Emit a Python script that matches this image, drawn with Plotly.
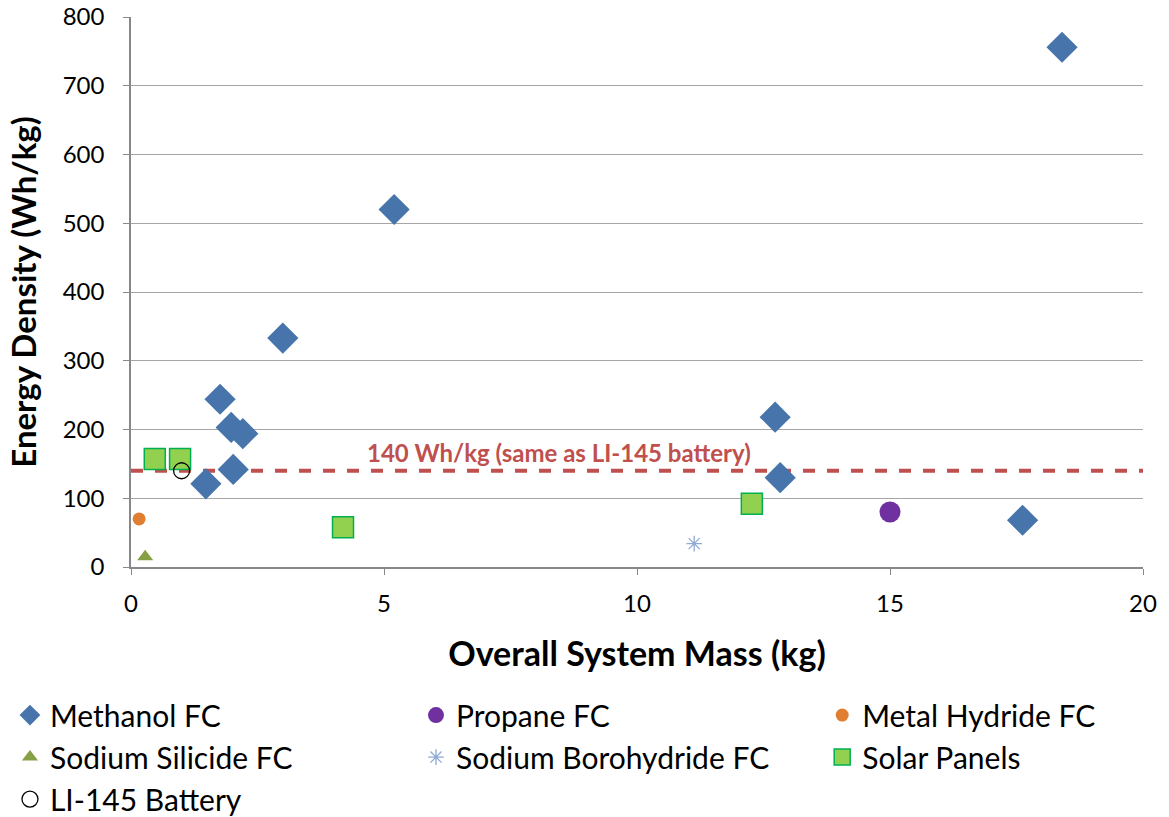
import plotly.graph_objects as go

methanol_x = [18.4, 5.2, 3.0, 1.76, 1.98, 2.21, 2.02, 1.48, 12.73, 12.83, 17.62]
methanol_y = [756, 520, 333, 244, 203, 194, 142, 121, 218, 130, 68]
propane_x = [15.0]
propane_y = [80]
metal_x = [0.16]
metal_y = [70]
silicide_x = [0.28]
silicide_y = [15]
borohydride_x = [11.13]
borohydride_y = [34]
solar_x = [0.47, 0.97, 4.19, 12.27]
solar_y = [157, 157, 58, 92]
battery_x = [1.0]
battery_y = [140]
ref_line_y = 140
ref_label = "140 Wh/kg (same as LI-145 battery)"

FONT = "Lato"

fig = go.Figure()
fig.add_trace(go.Scatter(x=methanol_x, y=methanol_y, mode="markers", name="Methanol FC",
                         legend="legend", legendgroup="a",
                         marker=dict(symbol="diamond", size=24, color="#4674AB")))
fig.add_trace(go.Scatter(x=propane_x, y=propane_y, mode="markers", name="Propane FC",
                         legend="legend2", legendgroup="b",
                         marker=dict(symbol="circle", size=21, color="#7030A0")))
fig.add_trace(go.Scatter(x=metal_x, y=metal_y, mode="markers", name="Metal Hydride FC",
                         legend="legend3", legendgroup="c",
                         marker=dict(symbol="circle", size=13, color="#E07F32")))
fig.add_trace(go.Scatter(x=silicide_x, y=silicide_y, mode="markers", name="Sodium Silicide FC",
                         legend="legend", legendgroup="d",
                         marker=dict(symbol="triangle-up", size=14, color="#86A045")))
fig.add_trace(go.Scatter(x=borohydride_x, y=borohydride_y, mode="markers", name="Sodium Borohydride FC",
                         legend="legend2", legendgroup="e",
                         marker=dict(symbol="asterisk-open", size=13, color="#8FA8D4",
                                     line=dict(width=1.3, color="#8FA8D4"))))
fig.add_trace(go.Scatter(x=solar_x, y=solar_y, mode="markers", name="Solar Panels",
                         legend="legend3", legendgroup="f",
                         marker=dict(symbol="square", size=21, color="#92D050",
                                     line=dict(width=1.5, color="#00B050"))))
fig.add_trace(go.Scatter(x=battery_x, y=battery_y, mode="markers", name="LI-145 Battery",
                         legend="legend", legendgroup="g",
                         marker=dict(symbol="circle-open", size=16, color="black",
                                     line=dict(width=1.3, color="black"))))

fig.add_shape(type="line", xref="x", yref="y", x0=0, x1=20, y0=ref_line_y, y1=ref_line_y,
              line=dict(color="#C0504D", width=4, dash="dash"), layer="below")
fig.add_annotation(x=8.46, y=ref_line_y + 27, xref="x", yref="y", text="<b>" + ref_label + "</b>",
                   showarrow=False, font=dict(family=FONT, size=24, color="#C0504D"))

leg_common = dict(orientation="v", y=-0.222, yanchor="top", xanchor="left",
                  font=dict(size=30), tracegroupgap=0, itemsizing="trace",
                  bgcolor="rgba(0,0,0,0)")

fig.update_layout(
    width=1169, height=817,
    margin=dict(l=131, r=26, t=17, b=250, autoexpand=False),
    plot_bgcolor="white", paper_bgcolor="white",
    font=dict(family=FONT, size=24, color="black"),
    xaxis=dict(range=[0, 20], dtick=5, showgrid=False, showline=True, linecolor="#888888",
               linewidth=1.5, ticks="outside", ticklen=6, tickcolor="#888888", zeroline=False,
               ticklabelstandoff=8,
               title=dict(text="<b>Overall System Mass (kg)</b>", font=dict(size=34), standoff=27),
               tickfont=dict(size=24)),
    yaxis=dict(range=[0, 800], dtick=100, showgrid=True, gridcolor="#A6A6A6", gridwidth=1.2,
               showline=True, linecolor="#888888", linewidth=1.5, ticks="outside", ticklen=6,
               tickcolor="#888888", zeroline=False, ticklabelstandoff=14,
               title=dict(text="<b>Energy Density (Wh/kg)</b>", font=dict(size=33), standoff=16),
               tickfont=dict(size=24)),
    showlegend=True,
    legend=dict(x=-0.1196, **leg_common),
    legend2=dict(x=0.2816, **leg_common),
    legend3=dict(x=0.683, **leg_common),
)

fig.write_html("out.html")
